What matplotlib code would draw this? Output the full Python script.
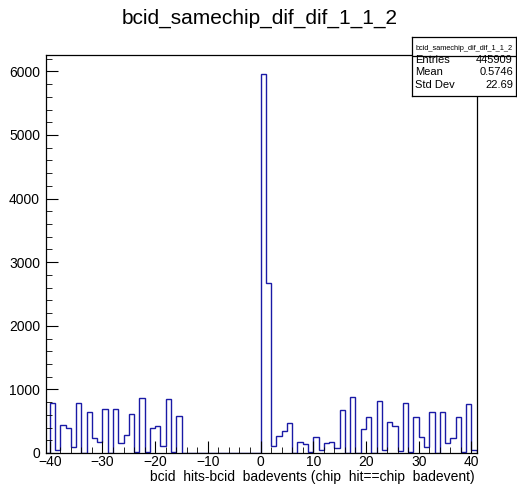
import numpy as np
import matplotlib
matplotlib.use('Agg')
import matplotlib.pyplot as plt
from matplotlib.ticker import MultipleLocator

plt.rcParams['font.family'] = ['Liberation Sans', 'DejaVu Sans']

title = 'bcid_samechip_dif_dif_1_1_2'
xlabel = 'bcid  hits-bcid  badevents (chip  hit==chip  badevent)'

# bin edges -41..41, width 1
edges = np.arange(-41, 42, 1)
counts_neg = [0, 781, 47, 440, 398, 89, 781, 0, 650, 230, 178, 692, 0, 692, 152,
              283, 620, 20, 860, 20, 398, 430, 110, 845, 20, 582]   # -41 .. -16
counts_gap = [0]*15                                                # -15 .. -1
counts_pos = [5955, 2668, 110, 267, 351, 466, 0, 168, 136, 10, 246, 47, 152, 168,
              73, 676, 0, 880, 0, 377, 560, 0, 823, 40, 490, 430, 35, 780, 20,
              560, 257, 90, 650, 0, 640, 152, 230, 560, 20, 765, 47]  # 0 .. 40
counts = np.array(counts_neg + counts_gap + counts_pos)

stat_names = ['Entries', 'Mean', 'Std Dev']
stat_vals = ['445909', '0.5746', '22.69']

W, H = 517, 487
fig = plt.figure(figsize=(W/100, H/100), dpi=100)
ax = fig.add_axes([45.5/W, (H-453)/H, (476.7-45.5)/W, (453-55.3)/H])

ax.stairs(counts, edges, color='#1a1aa6', lw=1.0, baseline=0)
ax.set_xlim(-40.8, 41.0)
ax.set_ylim(0, 6253)

ax.xaxis.set_major_locator(MultipleLocator(10))
ax.xaxis.set_minor_locator(MultipleLocator(2))
ax.yaxis.set_major_locator(MultipleLocator(1000))
ax.yaxis.set_minor_locator(MultipleLocator(200))
ax.tick_params(which='both', direction='in', top=False, right=False, labelsize=10)
ax.tick_params(axis='y', which='major', length=8.6, pad=4)
ax.tick_params(axis='y', which='minor', length=4.3)
ax.tick_params(axis='x', which='major', length=8.3, pad=1.5)
ax.tick_params(axis='x', which='minor', length=4.0)
for s in ax.spines.values():
    s.set_linewidth(0.9)

fig.text(260/W, (H-18)/H, title, fontsize=15, ha='center', va='center')
fig.text(475/W, (H-477)/H, xlabel, fontsize=10, ha='right', va='center')

# stats box
bx = fig.add_axes([411.7/W, (H-96)/H, (515.5-411.7)/W, (96-36.5)/H])
bx.set_xticks([])
bx.set_yticks([])
bx.set_xlim(0, 1)
bx.set_ylim(0, 1)
for s in bx.spines.values():
    s.set_linewidth(0.9)
bx.axhline(0.672, color='black', lw=0.9)
bx.text(0.5, 0.80, title, fontsize=5.3, ha='center', va='center')
rows_y = [0.605, 0.398, 0.185]
for name, val, yy in zip(stat_names, stat_vals, rows_y):
    bx.text(0.035, yy, name, fontsize=8, ha='left', va='center')
    bx.text(0.975, yy, val, fontsize=8, ha='right', va='center')

fig.savefig('out.png', dpi=100)
